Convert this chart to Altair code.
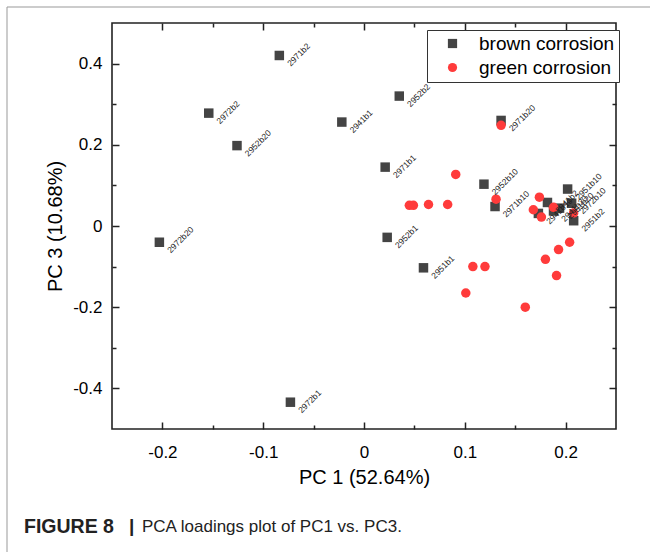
import altair as alt
import pandas as pd

# ---- data ----
brown_labels = ["2971b2", "2972b2", "2952b20", "2941b1", "2952b2", "2971b20", "2971b1",
                "2952b10", "2971b10", "2952b1", "2951b1", "2972b20", "2972b1",
                "2941b2", "2941b10", "2941b20", "2951b20", "2972b10", "2951b10", "2951b2"]
brown_pc1 = [-0.084, -0.154, -0.126, -0.022, 0.035, 0.136, 0.021,
             0.119, 0.130, 0.023, 0.059, -0.203, -0.073,
             0.182, 0.173, 0.188, 0.194, 0.206, 0.202, 0.208]
brown_pc3 = [0.420, 0.278, 0.198, 0.256, 0.320, 0.260, 0.145,
             0.103, 0.048, -0.028, -0.103, -0.040, -0.434,
             0.058, 0.031, 0.037, 0.044, 0.056, 0.091, 0.013]

green_pc1 = [0.091, 0.045, 0.049, 0.064, 0.083, 0.131, 0.136, 0.174, 0.168, 0.176,
             0.188, 0.208, 0.204, 0.193, 0.180, 0.191, 0.108, 0.120, 0.101, 0.160]
green_pc3 = [0.127, 0.051, 0.051, 0.053, 0.053, 0.066, 0.248, 0.071, 0.040, 0.022,
             0.046, 0.032, -0.040, -0.058, -0.082, -0.122, -0.100, -0.100, -0.165, -0.200]

groups = ["brown corrosion", "green corrosion"]
x_major = [-0.2, -0.1, 0, 0.1, 0.2]
x_minor = [-0.15, -0.05, 0.05, 0.15]
y_major = [-0.4, -0.2, 0, 0.2, 0.4]
y_minor = [-0.3, -0.1, 0.1, 0.3]
x_title = "PC 1 (52.64%)"
y_title = "PC 3 (10.68%)"
caption_bold = "FIGURE 8"
caption_bar = "|"
caption_rest = "PCA loadings plot of PC1 vs. PC3."

brown = pd.DataFrame({"pc1": brown_pc1, "pc3": brown_pc3, "label": brown_labels,
                      "group": groups[0]})
green = pd.DataFrame({"pc1": green_pc1, "pc3": green_pc3, "label": "",
                      "group": groups[1]})
df = pd.concat([brown, green], ignore_index=True)

W, H = 504, 406
FONT = "Liberation Sans"
xs = alt.Scale(domain=[-0.25, 0.25], nice=False, zero=False)
ys = alt.Scale(domain=[-0.5, 0.5], nice=False, zero=False)
lab = "'' + datum.value"

def tick_axis(orient, values, size):
    return alt.Axis(orient=orient, values=values, labels=False, domain=False, grid=False,
                    title=None, ticks=True, tickSize=alt.ExprRef(expr=str(-size)),
                    tickWidth=1.5, tickColor="#222")

def tick_layer(xo, yo, xv, yv, size):
    return alt.Chart(df).mark_point(opacity=0).encode(
        x=alt.X("pc1:Q", scale=xs, axis=tick_axis(xo, xv, size)),
        y=alt.Y("pc3:Q", scale=ys, axis=tick_axis(yo, yv, size)),
    )

legend = alt.Legend(orient="none", legendX=315, legendY=7, title=None,
                    labelFont=FONT, labelFontSize=19, labelColor="#000",
                    strokeColor="#333", fillColor="#fff", padding=4,
                    symbolOffset=12, labelOffset=17, rowPadding=4,
                    symbolSize=85, symbolStrokeWidth=0)

points = alt.Chart(df).mark_point(filled=True, opacity=1, size=90, strokeWidth=0).encode(
    x=alt.X("pc1:Q", scale=xs,
            axis=alt.Axis(orient="bottom", values=x_major, labelExpr=lab, ticks=False,
                          domain=False, grid=False, title=x_title, labelFont=FONT,
                          labelFontSize=17, labelColor="#000", labelPadding=15,
                          titleFont=FONT, titleFontSize=20, titleFontWeight="normal",
                          titleColor="#000", titlePadding=7)),
    y=alt.Y("pc3:Q", scale=ys,
            axis=alt.Axis(orient="left", values=y_major, labelExpr=lab, ticks=False,
                          domain=False, grid=False, title=y_title, labelFont=FONT,
                          labelFontSize=17, labelColor="#000", labelPadding=10,
                          titleFont=FONT, titleFontSize=20, titleFontWeight="normal",
                          titleColor="#000", titlePadding=7)),
    color=alt.Color("group:N", scale=alt.Scale(domain=groups, range=["#444444", "#ff3b3b"]),
                    legend=legend),
    shape=alt.Shape("group:N", scale=alt.Scale(domain=groups, range=["square", "circle"]),
                    legend=legend),
    order=alt.Order("group:N"),
)

labels = alt.Chart(brown).mark_text(angle=315, align="left", baseline="middle", dx=0, dy=13,
                                    fontSize=8.5, font=FONT, color="#222").encode(
    x=alt.X("pc1:Q", scale=xs, axis=None),
    y=alt.Y("pc3:Q", scale=ys, axis=None),
    text="label:N",
)

one = pd.DataFrame({"k": [0]})
border_v = alt.Chart(one).mark_rule(color="#999", strokeWidth=1).encode(
    x=alt.value(-105), y=alt.value(-16), y2=alt.value(H + 123))
border_h = alt.Chart(one).mark_rule(color="#999", strokeWidth=1).encode(
    x=alt.value(-105), x2=alt.value(W + 34), y=alt.value(-16))
cap1 = alt.Chart(one).mark_text(text=caption_bold, font=FONT, fontSize=19.5, fontWeight="bold",
                                align="left", baseline="middle", color="#222").encode(
    x=alt.value(-88), y=alt.value(504))
cap_bar = alt.Chart(one).mark_text(text=caption_bar, font=FONT, fontSize=19, fontWeight="bold",
                                   align="left", baseline="middle", color="#222").encode(
    x=alt.value(17), y=alt.value(503))
cap2 = alt.Chart(one).mark_text(text=caption_rest, font=FONT, fontSize=17,
                                align="left", baseline="middle", color="#222").encode(
    x=alt.value(30), y=alt.value(504))

chart = alt.layer(
    border_v, border_h, cap1, cap_bar, cap2,
    tick_layer("bottom", "left", x_major, y_major, 7),
    tick_layer("top", "right", x_major, y_major, 7),
    tick_layer("bottom", "left", x_minor, y_minor, 4),
    tick_layer("top", "right", x_minor, y_minor, 4),
    points, labels,
).resolve_axis(x="independent", y="independent").properties(
    width=W, height=H,
    padding={"left": 112, "top": 23, "right": 34, "bottom": 123},
    autosize=alt.AutoSizeParams(type="none"),
).configure_view(stroke="#222", strokeWidth=1.6)

chart.save("out.html", embed_options={"renderer": "svg", "actions": False})
